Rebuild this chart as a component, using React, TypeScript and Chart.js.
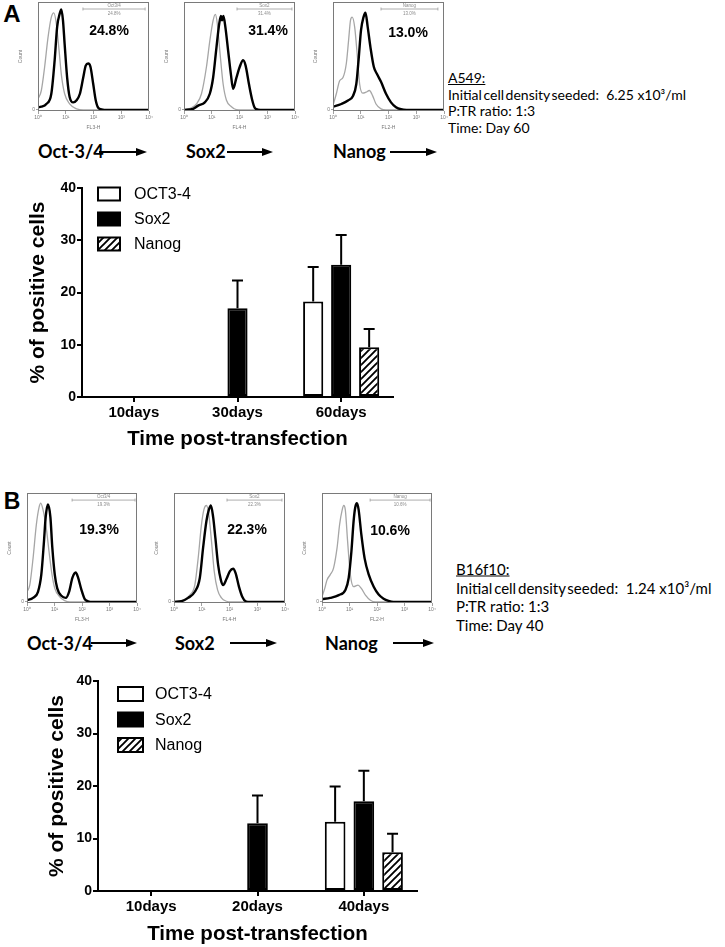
import React, { useEffect, useRef } from 'react';
import { Chart, registerables } from 'chart.js';

Chart.register(...registerables);

const SANS = '"Liberation Sans", Arial, Helvetica, sans-serif';
const HUMAN = 'Lato, "Open Sans", "Noto Sans", sans-serif';

// ---------------- Bar chart data ----------------
const daysA = ['10days', '30days', '60days'];
const oct4A = [0, 0, 18.3];
const sox2A = [0, 17.0, 25.3];
const nanogA = [0, 0, 9.5];
const oct4ErrA = [null, null, 6.6];
const sox2ErrA = [null, 5.3, 5.7];
const nanogErrA = [null, null, 3.5];

const daysB = ['10days', '20days', '40days'];
const oct4B = [0, 0, 13.2];
const sox2B = [0, 12.9, 17.1];
const nanogB = [0, 0, 7.4];
const oct4ErrB = [null, null, 6.7];
const sox2ErrB = [null, 5.3, 5.8];
const nanogErrB = [null, null, 3.5];

const barYTicks = [0, 10, 20, 30, 40];
const seriesNames = ['OCT3-4', 'Sox2', 'Nanog'];

// ---------------- Histogram data: [log10 decade, relative count] ----------------
const decadeTicks = [0, 1, 2, 3, 4];
const decadeLabels = ['10\u2070', '10\u00b9', '10\u00b2', '10\u00b3', '10\u2074'];

const octA_pos = [[0, 2.5], [0.12, 3], [0.3, 5.5], [0.48, 15], [0.6, 46], [0.69, 77], [0.78, 89], [0.84, 93], [0.9, 83], [0.96, 61], [1.05, 30], [1.14, 12], [1.27, 7], [1.39, 9], [1.51, 15], [1.63, 30], [1.72, 41], [1.81, 43], [1.89, 40], [1.99, 24], [2.08, 9], [2.17, 2], [2.29, 0.5], [2.5, 0], [4, 0]];
const octA_neg = [[0, 10], [0.12, 18], [0.24, 40], [0.36, 67], [0.48, 86], [0.57, 90], [0.66, 80], [0.76, 55], [0.84, 33], [0.96, 15], [1.14, 5.6], [1.39, 1], [1.63, 0], [4, 0]];
const soxA_pos = [[0, 0], [0.33, 1], [0.51, 4], [0.75, 7], [0.93, 15], [1.05, 30], [1.17, 58], [1.27, 80], [1.33, 87], [1.37, 83], [1.42, 87], [1.49, 77], [1.59, 55], [1.69, 33], [1.77, 19.5], [1.89, 30], [2.01, 40], [2.13, 46], [2.22, 41], [2.34, 24], [2.46, 9], [2.55, 2], [2.67, 0.3], [2.85, 0], [4, 0]];
const soxA_neg = [[0, 0], [0.27, 2], [0.45, 5.5], [0.63, 15], [0.81, 40], [0.93, 64], [1.05, 83], [1.13, 88.5], [1.2, 80], [1.29, 55], [1.41, 24], [1.53, 9], [1.71, 3], [1.89, 0.3], [2.1, 0], [4, 0]];
const nanogA_pos = [[0, 3], [0.3, 5.5], [0.54, 8.7], [0.72, 13], [0.84, 24], [0.93, 49], [1.01, 74], [1.1, 86], [1.17, 90], [1.25, 77], [1.35, 58], [1.47, 40], [1.59, 33], [1.73, 26], [1.91, 15], [2.09, 7], [2.27, 2.5], [2.45, 0.6], [2.65, 0], [4, 0]];
const nanogA_neg = [[0, 4], [0.12, 15], [0.24, 27], [0.36, 30], [0.48, 43], [0.56, 64], [0.63, 83], [0.69, 86], [0.78, 77], [0.87, 52], [0.96, 24], [1.07, 15.5], [1.19, 16.4], [1.31, 18], [1.43, 13], [1.55, 5.5], [1.73, 1], [1.91, 0], [4, 0]];

const octB_pos = [[0, 1.5], [0.22, 3.7], [0.4, 9.3], [0.52, 25], [0.61, 53], [0.68, 78], [0.76, 89.4], [0.85, 78], [0.92, 50], [1.01, 25], [1.1, 12.4], [1.25, 5.6], [1.41, 3.7], [1.53, 9.3], [1.65, 22], [1.77, 27], [1.85, 23], [1.98, 11], [2.1, 2.5], [2.22, 0.6], [2.4, 0], [4, 0]];
const octB_neg = [[0, 9.3], [0.1, 15.5], [0.22, 40], [0.34, 71], [0.44, 87], [0.5, 90.7], [0.58, 85], [0.7, 68], [0.8, 46.5], [0.91, 25], [1.01, 12.4], [1.19, 4.7], [1.37, 1.2], [1.55, 0], [4, 0]];
const soxB_pos = [[0, 0], [0.27, 0.6], [0.51, 3.7], [0.75, 9.3], [0.93, 22], [1.05, 50], [1.17, 74.5], [1.25, 84], [1.33, 88.5], [1.41, 78], [1.49, 59], [1.59, 34], [1.69, 20], [1.77, 15.5], [1.89, 21], [2.01, 28], [2.13, 30.4], [2.22, 26.4], [2.34, 14], [2.46, 4.7], [2.58, 0.6], [2.75, 0], [4, 0]];
const soxB_neg = [[0, 0], [0.33, 1.5], [0.57, 6.2], [0.75, 15.5], [0.87, 40], [0.99, 71], [1.08, 85], [1.17, 88.5], [1.25, 81], [1.35, 56], [1.45, 28], [1.57, 11], [1.71, 3.7], [1.89, 0.6], [2.05, 0], [4, 0]];
const nanogB_pos = [[0, 2.5], [0.3, 3.7], [0.61, 6.2], [0.85, 11], [0.97, 22], [1.07, 46.5], [1.15, 74.5], [1.21, 87], [1.27, 90.7], [1.33, 85], [1.43, 62], [1.55, 40], [1.7, 25], [1.88, 14], [2.06, 6.8], [2.24, 3], [2.42, 1], [2.6, 0], [4, 0]];
const nanogB_neg = [[0, 4.7], [0.1, 12.4], [0.18, 20], [0.3, 25], [0.42, 31], [0.55, 50], [0.64, 71], [0.73, 84], [0.79, 88.5], [0.85, 84], [0.93, 56], [1.03, 25], [1.15, 14], [1.31, 15.5], [1.43, 12.4], [1.58, 6.2], [1.76, 1.5], [1.94, 0], [4, 0]];

// gate markers [start decade, end decade]
const octA_gate = [1.62, 3.86];
const soxA_gate = [1.91, 3.89];
const nanogA_gate = [1.73, 3.78];
const octB_gate = [1.64, 3.93];
const soxB_gate = [1.91, 3.89];
const nanogB_gate = [1.75, 3.93];

// ---------------- plugins ----------------
const histFrame = {
  id: 'histFrame',
  afterDraw(chart: any, _args: any, opts: any) {
    const { ctx, chartArea: a, scales } = chart;
    ctx.save();
    ctx.strokeStyle = '#7a7a7a';
    ctx.lineWidth = 1;
    ctx.strokeRect(a.left + 0.5, a.top + 0.5, a.right - a.left - 1, a.bottom - a.top - 1);
    if (opts && opts.gate) {
      const x1 = scales.x.getPixelForValue(opts.gate[0]);
      const x2 = scales.x.getPixelForValue(opts.gate[1]);
      const y = scales.y.getPixelForValue(opts.gateY);
      ctx.strokeStyle = '#9a9a9a';
      ctx.lineWidth = 0.8;
      ctx.beginPath();
      ctx.moveTo(x1, y); ctx.lineTo(x2, y);
      ctx.moveTo(x1, y - 1.5); ctx.lineTo(x1, y + 1.5);
      ctx.moveTo(x2, y - 1.5); ctx.lineTo(x2, y + 1.5);
      ctx.stroke();
      ctx.fillStyle = '#8a8a8a';
      ctx.font = `4.5px ${SANS}`;
      ctx.textAlign = 'center';
      ctx.textBaseline = 'middle';
      const xm = (x1 + x2) / 2;
      ctx.fillText(opts.name, xm, y - 3.5);
      ctx.fillText(opts.pct, xm, y + 4.5);
    }
    ctx.restore();
  },
};

const errorBars = {
  id: 'errorBars',
  afterDatasetsDraw(chart: any) {
    const { ctx } = chart;
    const ys = chart.scales.y;
    chart.data.datasets.forEach((ds: any, i: number) => {
      const errs = ds.errors;
      if (!errs) return;
      const meta = chart.getDatasetMeta(i);
      meta.data.forEach((bar: any, j: number) => {
        const e = errs[j];
        if (e == null) return;
        const top = ys.getPixelForValue(ds.data[j] + e);
        ctx.save();
        ctx.strokeStyle = '#000';
        ctx.lineWidth = 2;
        ctx.beginPath();
        ctx.moveTo(bar.x, bar.y);
        ctx.lineTo(bar.x, top);
        ctx.moveTo(bar.x - 5.5, top);
        ctx.lineTo(bar.x + 5.5, top);
        ctx.stroke();
        ctx.restore();
      });
    });
  },
};

const innerLegend = {
  id: 'innerLegend',
  afterDraw(chart: any, _args: any, o: any) {
    const { ctx, chartArea } = chart;
    const x0 = chartArea.left + o.dx;
    chart.data.datasets.forEach((ds: any, i: number) => {
      const cy = chartArea.top + o.dy + i * o.gap;
      ctx.save();
      ctx.fillStyle = ds.backgroundColor;
      ctx.fillRect(x0, cy - o.bh / 2, o.bw, o.bh);
      ctx.strokeStyle = '#000';
      ctx.lineWidth = 2;
      ctx.strokeRect(x0, cy - o.bh / 2, o.bw, o.bh);
      ctx.fillStyle = '#000';
      ctx.font = `16px ${SANS}`;
      ctx.textAlign = 'left';
      ctx.textBaseline = 'middle';
      ctx.fillText(ds.label, x0 + o.bw + o.tg, cy + 1);
      ctx.restore();
    });
  },
};

function makeHatch() {
  const s = 7;
  const c = document.createElement('canvas');
  c.width = s;
  c.height = s;
  const g = c.getContext('2d')!;
  g.fillStyle = '#fff';
  g.fillRect(0, 0, s, s);
  g.strokeStyle = '#000';
  g.lineWidth = 1.9;
  g.beginPath();
  g.moveTo(-1, s + 1); g.lineTo(s + 1, -1);
  g.moveTo(-1, 1); g.lineTo(1, -1);
  g.moveTo(s - 1, s + 1); g.lineTo(s + 1, s - 1);
  g.stroke();
  return g.createPattern(c, 'repeat');
}

function barConfig(labels: string[], series: number[][], errs: (number | null)[][], yw: number, xh: number, legend: any) {
  const hatch = makeHatch();
  const fills = ['#fff', '#000', hatch];
  return {
    type: 'bar',
    data: {
      labels,
      datasets: series.map((d, i) => ({
        label: seriesNames[i],
        data: d,
        errors: errs[i],
        backgroundColor: fills[i],
        borderColor: '#000',
        borderWidth: 2,
        borderSkipped: false,
        categoryPercentage: 0.81,
        barPercentage: 0.72,
      })),
    },
    options: {
      animation: false,
      responsive: true,
      maintainAspectRatio: false,
      layout: { padding: { top: 13, right: 12, left: 0, bottom: 0 } },
      plugins: { legend: { display: false }, tooltip: { enabled: false }, innerLegend: legend },
      scales: {
        x: {
          grid: { display: true, drawOnChartArea: false, offset: false, color: '#000', lineWidth: 2, tickLength: 5 },
          border: { display: true, color: '#000', width: 2 },
          ticks: { color: '#000', font: { family: SANS, size: 15, weight: 'bold' }, padding: 2, maxRotation: 0 },
          title: { display: true, text: 'Time post-transfection', color: '#000', font: { family: SANS, size: 20.5, weight: 'bold' }, padding: 0 },
          afterFit: (s: any) => { s.height = xh; s.paddingLeft = 0; s.paddingRight = 0; },
        },
        y: {
          min: 0,
          max: 40,
          afterBuildTicks: (s: any) => { s.ticks = barYTicks.map((v) => ({ value: v })); },
          ticks: { color: '#000', font: { family: SANS, size: 14, weight: 'bold' }, padding: 1 },
          grid: { drawOnChartArea: false, color: '#000', lineWidth: 2, tickLength: 5 },
          border: { color: '#000', width: 2 },
          title: { display: true, text: '% of positive cells', color: '#000', font: { family: SANS, size: 21, weight: 'bold' }, padding: 0 },
          afterFit: (s: any) => { s.width = yw; s.paddingTop = 0; s.paddingBottom = 0; },
        },
      },
    },
    plugins: [errorBars, innerLegend],
  };
}

function histConfig(pos: number[][], neg: number[][], channel: string, gate: number[], name: string, pct: string) {
  const tickFont = { family: SANS, size: 5 };
  return {
    type: 'line',
    data: {
      datasets: [
        { data: pos.map((p) => ({ x: p[0], y: p[1] })), borderColor: '#000', borderWidth: 2.4, pointRadius: 0, cubicInterpolationMode: 'monotone', fill: false },
        { data: neg.map((p) => ({ x: p[0], y: p[1] })), borderColor: '#a6a6a6', borderWidth: 1.3, pointRadius: 0, cubicInterpolationMode: 'monotone', fill: false },
      ],
    },
    options: {
      animation: false,
      responsive: true,
      maintainAspectRatio: false,
      layout: { padding: { top: 2, right: 4, left: 0, bottom: 0 } },
      plugins: { legend: { display: false }, tooltip: { enabled: false }, histFrame: { gate, gateY: 93.5, name, pct } },
      scales: {
        x: {
          type: 'linear',
          min: 0,
          max: 4,
          afterBuildTicks: (s: any) => { s.ticks = decadeTicks.map((v) => ({ value: v })); },
          ticks: { callback: (v: any) => decadeLabels[decadeTicks.indexOf(v)] ?? '', font: tickFont, color: '#777', padding: 1, maxRotation: 0, autoSkip: false },
          grid: { display: true, drawOnChartArea: false, tickLength: 3, color: '#888', lineWidth: 0.8 },
          border: { display: false },
          title: { display: true, text: channel, font: tickFont, color: '#777', padding: 0 },
          afterFit: (s: any) => { s.height = 20; s.paddingLeft = 0; s.paddingRight = 0; },
        },
        y: {
          min: -1,
          max: 100,
          afterBuildTicks: (s: any) => { s.ticks = [{ value: 0 }]; },
          ticks: { callback: () => '0', font: tickFont, color: '#777', padding: 1 },
          grid: { display: true, drawOnChartArea: false, tickLength: 2, color: '#888', lineWidth: 0.8 },
          border: { display: false },
          title: { display: true, text: 'Count', font: tickFont, color: '#777', padding: 0 },
          afterFit: (s: any) => { s.width = 20; s.paddingTop = 0; s.paddingBottom = 0; },
        },
      },
    },
    plugins: [histFrame],
  };
}

function ChartBox({ left, top, width, height, build }: { left: number; top: number; width: number; height: number; build: () => any }) {
  const ref = useRef<HTMLCanvasElement>(null);
  useEffect(() => {
    const chart = new Chart(ref.current as HTMLCanvasElement, build());
    return () => chart.destroy();
  }, []);
  return (
    <div style={{ position: 'absolute', left, top, width, height }}>
      <canvas ref={ref} />
    </div>
  );
}

// Histogram placed by its plot box (L, R, T, bottom)
function Hist({ L, R, T, B, build }: { L: number; R: number; T: number; B: number; build: () => any }) {
  return <ChartBox left={L - 20} top={T - 2} width={R - L + 24} height={B - T + 22} build={build} />;
}

function Txt({ x, y, size, bold, family = SANS, anchor = 'left', children, style }: any) {
  const tx = anchor === 'center' ? '-50%' : '0';
  return (
    <div
      style={{
        position: 'absolute', left: x, top: y, transform: `translate(${tx},-50%)`,
        fontSize: size, fontWeight: bold ? 700 : 400, fontFamily: family, lineHeight: 1,
        whiteSpace: 'pre', color: '#000', ...style,
      }}
    >
      {children}
    </div>
  );
}

function Arrow({ x1, x2, y }: { x1: number; x2: number; y: number }) {
  const head = 11;
  return (
    <>
      <div style={{ position: 'absolute', left: x1, top: y - 1, width: x2 - x1 - head + 1, height: 2, background: '#000' }} />
      <div style={{ position: 'absolute', left: x2 - head, top: y - 4.5, width: 0, height: 0, borderTop: '4.5px solid transparent', borderBottom: '4.5px solid transparent', borderLeft: `${head}px solid #000` }} />
    </>
  );
}

function Info({ x, y, gap, size, title, density, day }: any) {
  return (
    <>
      <Txt x={x} y={y} size={size} family={HUMAN} style={{ textDecoration: 'underline' }}>{title}</Txt>
      <Txt x={x} y={y + gap} size={size} family={HUMAN}>
        <span style={{ wordSpacing: -2 }}>Initial cell density seeded:</span>{'  ' + density + ' x10\u00b3/ml'}
      </Txt>
      <Txt x={x} y={y + 2 * gap} size={size} family={HUMAN}>P:TR ratio: 1:3</Txt>
      <Txt x={x} y={y + 3 * gap} size={size} family={HUMAN}>{'Time: Day ' + day}</Txt>
    </>
  );
}

export default function App() {
  return (
    <div style={{ position: 'absolute', left: 0, top: 0, width: 725, height: 947, overflow: 'hidden', background: '#fff' }}>
      {/* ---------- Panel A ---------- */}
      <Txt x={12} y={14} size={24} bold anchor="center">A</Txt>
      <Hist L={38} R={149} T={2} B={111} build={() => histConfig(octA_pos, octA_neg, 'FL3-H', octA_gate, 'Oct3/4', '24.8%')} />
      <Hist L={184} R={295} T={2} B={111} build={() => histConfig(soxA_pos, soxA_neg, 'FL4-H', soxA_gate, 'Sox2', '31.4%')} />
      <Hist L={333} R={444} T={2} B={111} build={() => histConfig(nanogA_pos, nanogA_neg, 'FL2-H', nanogA_gate, 'Nanog', '13.0%')} />
      <Txt x={109} y={30} size={14} bold anchor="center">24.8%</Txt>
      <Txt x={268} y={30} size={14} bold anchor="center">31.4%</Txt>
      <Txt x={408} y={32} size={14} bold anchor="center">13.0%</Txt>
      <Txt x={38} y={151} size={18} bold family={HUMAN}>Oct-3/4</Txt>
      <Arrow x1={99} x2={147} y={152} />
      <Txt x={186} y={151} size={18} bold family={HUMAN}>Sox2</Txt>
      <Arrow x1={227} x2={273} y={152} />
      <Txt x={333} y={151} size={18} bold family={HUMAN}>Nanog</Txt>
      <Arrow x1={390} x2={437} y={152} />
      <Info x={448} y={78} gap={16.5} size={14} title="A549:" density="6.25" day="60" />
      <ChartBox
        left={26} top={175} width={379} height={277}
        build={() => barConfig(daysA, [oct4A, sox2A, nanogA], [oct4ErrA, sox2ErrA, nanogErrA], 56, 55, { dx: 16, dy: 6, gap: 25, bw: 22, bh: 13, tg: 14 })}
      />

      {/* ---------- Panel B ---------- */}
      <Txt x={12} y={501} size={23} bold anchor="center">B</Txt>
      <Hist L={27} R={137} T={493} B={603} build={() => histConfig(octB_pos, octB_neg, 'FL3-H', octB_gate, 'Oct3/4', '19.3%')} />
      <Hist L={174} R={285} T={493} B={603} build={() => histConfig(soxB_pos, soxB_neg, 'FL4-H', soxB_gate, 'Sox2', '22.3%')} />
      <Hist L={322} R={432} T={493} B={603} build={() => histConfig(nanogB_pos, nanogB_neg, 'FL2-H', nanogB_gate, 'Nanog', '10.6%')} />
      <Txt x={99} y={529} size={14} bold anchor="center">19.3%</Txt>
      <Txt x={247} y={529} size={14} bold anchor="center">22.3%</Txt>
      <Txt x={390} y={530} size={14} bold anchor="center">10.6%</Txt>
      <Txt x={27} y={643} size={18} bold family={HUMAN}>Oct-3/4</Txt>
      <Arrow x1={91} x2={137} y={643} />
      <Txt x={175} y={643} size={18} bold family={HUMAN}>Sox2</Txt>
      <Arrow x1={230} x2={277} y={643} />
      <Txt x={325} y={643} size={18} bold family={HUMAN}>Nanog</Txt>
      <Arrow x1={393} x2={434} y={643} />
      <Info x={456} y={569} gap={18.7} size={15} title="B16f10:" density="1.24" day="40" />
      <ChartBox
        left={45} top={668} width={384} height={279}
        build={() => barConfig(daysB, [oct4B, sox2B, nanogB], [oct4ErrB, sox2ErrB, nanogErrB], 53, 56, { dx: 20, dy: 13, gap: 25.5, bw: 25, bh: 14, tg: 12 })}
      />
    </div>
  );
}
